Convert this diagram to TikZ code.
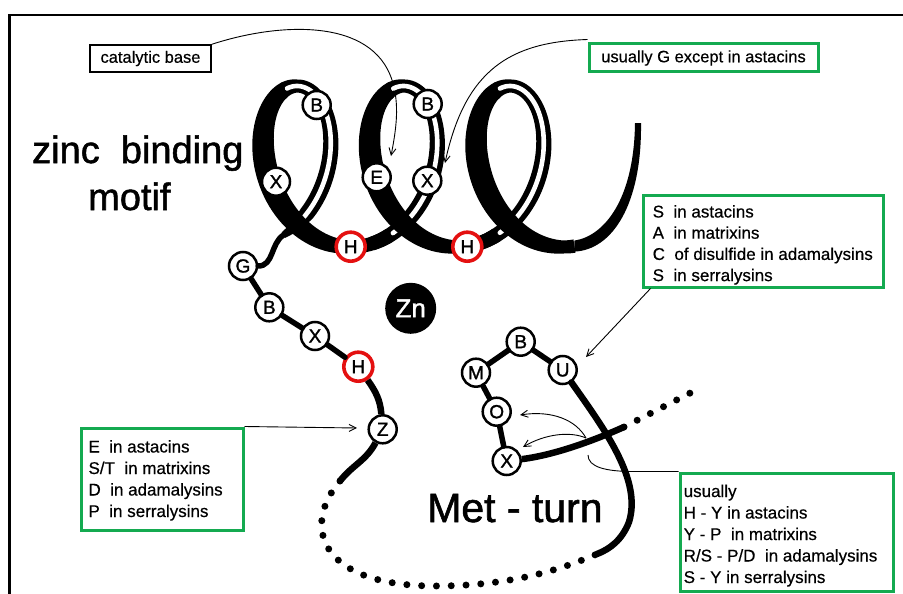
\documentclass[tikz,border=0pt]{standalone}
\usepackage{fontspec}
\setmainfont{Liberation Sans}[FakeBold=0.5]
\newfontfamily\heavyfont{Liberation Sans}[FakeBold=1.4]
\usetikzlibrary{arrows.meta,calc}
\definecolor{boxgreen}{RGB}{20,170,80}
\definecolor{hisred}{RGB}{228,16,16}

\begin{document}
\begin{tikzpicture}[x=1pt,y=-1pt,
  declare function={
    hx(\t)=243.75+16.95*\t+57.9*sin(\t r);
    hy(\t)=166.5+80.5*cos(\t r);
    hw(\t)=(6.5+5*max(0,-sin(\t r))+1.5*max(0,sin(\t r)))*min(1,0.45+(\t-0.55)*1.4);
    ox(\t)=hx(\t)+hw(\t)*sin(\t r);
    oy(\t)=hy(\t)+hw(\t)*cos(\t r);
    ix(\t)=hx(\t)-hw(\t)*sin(\t r);
    iy(\t)=hy(\t)-hw(\t)*cos(\t r);
  },
  res/.style={circle, draw=black, fill=white, line width=2.5pt, minimum size=28pt,
    inner sep=0pt, font=\heavyfont\fontsize{19}{19}\selectfont},
  hres/.style={res, draw=hisred, line width=3.6pt, minimum size=29pt},
  chainline/.style={line width=5.5pt, line cap=round},
  thickline/.style={line width=6.5pt},
  lead/.style={line width=0.9pt},
  tip/.style={-{Straight Barb[length=7pt,width=7pt]}},
  dots/.style={line width=7pt, line cap=round, dash pattern=on 0pt off 14.8pt},
  labelbox/.style={draw=black, line width=1.3pt, inner sep=0pt},
  greenbox/.style={draw=boxgreen, line width=3pt, inner sep=0pt},
  boxtext/.style={font=\fontsize{17}{20}\selectfont, inner sep=0pt, anchor=base west},
  bigtext/.style={inner sep=0pt, anchor=base west}
]
\useasboundingbox (0,0) rectangle (903,594);

% frame
\draw[line width=2.6pt] (903,15) -- (9.5,15) -- (9.5,594);

% catalytic base label and its leader (passes behind the helix)
\node[labelbox, minimum width=121pt, minimum height=27pt,
  font=\fontsize{16.5}{18}\selectfont] (cat) at (150.5,58.5) {catalytic base};
\coordinate (catend) at (391,156);
\draw[lead, tip] (cat.north east) .. controls (280,22) and (372,18) .. (392,80)
  .. controls (400,105) and (396,130) .. (catend);

% ---- helix ribbon ----
% back halves (rising side of each turn)
\foreach \a/\b in {0.55/3.49, 6.58/9.78, 12.87/16.06} {
  \fill plot[domain=\a:\b, samples=60, variable=\t] ({ox(\t)},{oy(\t)})
    -- plot[domain=\b:\a, samples=60, variable=\t] ({ix(\t)},{iy(\t)}) -- cycle;
}
% white stripe between the two edges of the back faces
\foreach \a/\b in {0.7/3.39, 6.88/9.68, 13.17/15.96} {
  \draw[white, line width=4.6pt, line cap=round]
    plot[domain=\a:\b, samples=60, variable=\t] ({hx(\t)},{hy(\t)});
}
% front halves (descending side, solid black)
\foreach \a/\b in {3.44/6.83, 9.73/13.12, 16.01/19.0} {
  \fill plot[domain=\a:\b, samples=60, variable=\t] ({ox(\t)},{oy(\t)})
    -- plot[domain=\b:\a, samples=60, variable=\t] ({ix(\t)},{iy(\t)}) -- cycle;
}
\coordinate (hstart) at ({hx(0.55)},{hy(0.55)});
\coordinate (tail0) at ({hx(19.0)},{hy(19.0)});
\coordinate (tailend) at (638,123);
\fill (tail0) ++(0,-5.5) .. controls (604,236) and (634,200) .. (635,123)
  -- (641,123) .. controls (642,205) and (612,250) .. ($(tail0)+(0,5.5)$) -- cycle;

% ---- residues of the strand below the helix ----
\node[res] (g) at (243,266) {G};
\node[res] (b3) at (269.3,307.3) {B};
\node[res] (x3) at (315,336) {X};
\node[hres] (h3) at (358.3,366.7) {H};
\node[res] (z) at (382.7,429.3) {Z};
\coordinate (zlow) at (340,481);

\draw[chainline] (g) to[out=0,in=214] (hstart);
\draw[chainline] (g) -- (b3) -- (x3) -- (h3);
\draw[thickline] (h3) to[out=-55,in=95] (z);
\draw[thickline] (z) to[out=-118,in=52] (zlow);

% ---- Met-turn ----
\node[res] (mb) at (520.7,341.7) {B};
\node[res] (mm) at (476,372.7) {M};
\node[res] (mu) at (562.7,370) {U};
\node[res] (mo) at (496.7,411.7) {O};
\node[res] (mx) at (506.7,461) {X};
\coordinate (turnlow) at (597,554);
\coordinate (xend) at (624,427);
\coordinate (dotend) at (698,389);

\draw[dots] (zlow) .. controls (302,525) and (318,586) .. (435,586)
  .. controls (510,586) and (560,570) .. (turnlow);
\draw[dots] (xend) -- (dotend);
\draw[chainline] (mm) -- (mb) -- (mu);
\draw[chainline] (mm) -- (mo) -- (mx);
\draw[thickline, line cap=round] (mu) .. controls (605,430) and (642,480) .. (629,522)
  .. controls (622,540) and (610,549) .. (turnlow);
\draw[thickline] (mx) .. controls (555,455) and (595,440) .. (xend);

% ---- helix residues ----
\node[res] (b1) at (316.7,105) {B};
\node[res] (x1) at (276,181.7) {X};
\node[res] (b2) at (427.7,104) {B};
\node[res] (e) at (376.7,177.3) {E};
\node[res] (x2) at (427.3,180.7) {X};
\node[hres] (h1) at (350.7,246.7) {H};
\node[hres] (h2) at (467.3,246.7) {H};

% zinc ion
\node[circle, fill=black, minimum size=51pt, inner sep=0pt, text=white,
  font=\heavyfont\fontsize{26}{26}\selectfont] (zn) at (410.7,308.3) {Zn};

% ---- titles ----
\node[bigtext, font=\heavyfont\fontsize{38}{40}\selectfont] (t1) at (32,163) {zinc\ \ binding};
\node[bigtext, font=\heavyfont\fontsize{38}{40}\selectfont] (t2) at (88,210) {motif};
\node[bigtext, font=\heavyfont\fontsize{41}{44}\selectfont] (t3) at (427,522) {Met - turn};

% ---- green annotation boxes ----
\node[greenbox, minimum width=229pt, minimum height=28pt,
  font=\fontsize{16.5}{18}\selectfont] (gnote) at (703.5,58) {usually G except in astacins};
\coordinate (gend) at (445,163);
\draw[lead, tip] ([yshift=3pt]gnote.north west) .. controls (510,42) and (465,70) .. (gend);

\node[greenbox, minimum width=240pt, minimum height=92pt] (sbox) at (763,241) {};
\node[boxtext] (s1) at (652.5,217.5) {S\ \ in astacins};
\node[boxtext] (s2) at (652.5,238.7) {A\ \ in matrixins};
\node[boxtext] (s3) at (652.5,259.9) {C\ \ of disulfide in adamalysins};
\node[boxtext] (s4) at (652.5,281.1) {S\ \ in serralysins};
\coordinate (send) at (586,357);
\draw[lead, tip] ([xshift=9pt]sbox.south west) -- (send);

\node[greenbox, minimum width=162pt, minimum height=102pt] (lbox) at (162,479) {};
\node[boxtext] (l1) at (88.3,452.5) {E\ \ in astacins};
\node[boxtext] (l2) at (88.3,474) {S/T\ \ in matrixins};
\node[boxtext] (l3) at (88.3,495.5) {D\ \ in adamalysins};
\node[boxtext] (l4) at (88.3,517) {P\ \ in serralysins};
\coordinate (zarrow) at (357,428);
\draw[lead, tip] (lbox.north east) -- (zarrow);

\node[greenbox, minimum width=213pt, minimum height=118pt] (ubox) at (786.5,532) {};
\node[boxtext] (u1) at (683.5,497) {usually};
\node[boxtext] (u2) at (683.5,518.5) {H - Y in astacins};
\node[boxtext] (u3) at (683.5,540) {Y - P\ \ in matrixins};
\node[boxtext] (u4) at (683.5,561.5) {R/S - P/D\ \ in adamalysins};
\node[boxtext] (u5) at (683.5,583) {S - Y in serralysins};
\coordinate (uend) at (588,455);
\draw[lead] (ubox.north west) -- ++(-45,0) .. controls +(-28,0) and +(0,12) .. (uend);

% arrows pointing at O and X
\coordinate (fork) at (586,438);
\coordinate (otip) at (520,415);
\coordinate (xtip) at (523,447);
\draw[lead, tip] (fork) .. controls (576,420) and (552,410) .. (otip);
\draw[lead, tip] (fork) .. controls (570,431) and (545,434) .. (xtip);

\end{tikzpicture}
\end{document}
